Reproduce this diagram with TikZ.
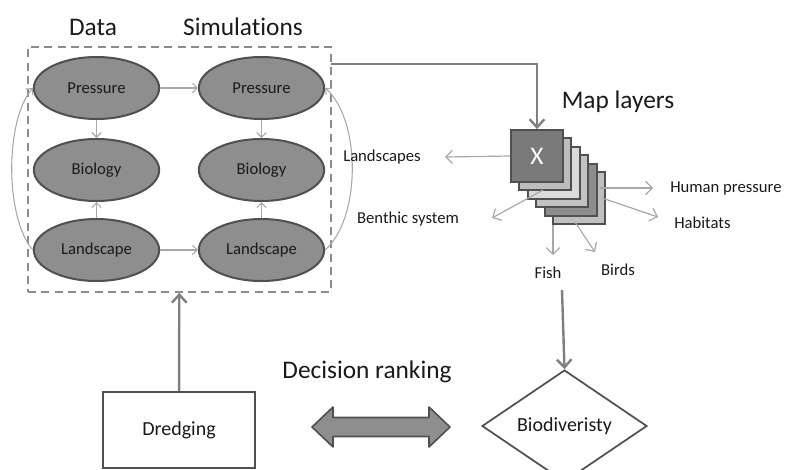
\documentclass[tikz,border=0pt]{standalone}
\usepackage{fontspec}
\setmainfont{Carlito}[Ligatures={NoCommon}]
\usetikzlibrary{arrows.meta,shapes.geometric}
\definecolor{ellfill}{HTML}{8E8E8E}
\definecolor{ellline}{HTML}{505050}
\definecolor{thinarr}{HTML}{A8A8A8}
\definecolor{thickarr}{HTML}{7F7F7F}
\definecolor{dashc}{HTML}{8C8C8C}
\definecolor{txt}{HTML}{1A1A1A}
\begin{document}
\begin{tikzpicture}[x=0.75pt,y=-0.75pt,
  txtsmall/.style={font=\fontsize{12.5}{15}\selectfont, text=txt, inner sep=0pt},
  txtbig/.style={font=\fontsize{19}{23}\selectfont, text=txt, inner sep=0pt},
  ell/.style={ellipse, draw=ellline, line width=1.5pt, fill=ellfill, minimum width=94pt, minimum height=46.5pt, inner sep=0pt, font=\fontsize{12.5}{15}\selectfont, text=txt},
  layer/.style={draw=ellline, line width=1.4pt, minimum width=39pt, minimum height=39pt, inner sep=0pt},
  thinar/.style={draw=thinarr, line width=0.8pt, -{Straight Barb[length=3.5pt,width=7pt]}},
  mapar/.style={draw=thinarr, line width=0.9pt, -{Straight Barb[length=5pt,width=10pt]}},
  thickar/.style={draw=thickarr, line width=1.8pt, -{Straight Barb[length=6pt,width=11pt]}}
]
\useasboundingbox (0,0) rectangle (789,469);

% frame
\node[draw=dashc, dashed, dash pattern=on 6pt off 4pt, line width=1.3pt, minimum width=227.25pt, minimum height=183.75pt, inner sep=0pt] (frame) at (179.5,169.5) {};

\node[txtbig] (data) at (93,27) {Data};
\node[txtbig] (sim) at (243,27) {Simulations};

% ellipses
\node[ell] (p1) at (96.5,88) {Pressure};
\node[ell] (b1) at (96.5,170) {Biology};
\node[ell] (l1) at (96.5,250) {Landscape};
\node[ell] (p2) at (261.5,88) {Pressure};
\node[ell] (b2) at (261.5,170) {Biology};
\node[ell] (l2) at (261.5,250) {Landscape};

\draw[thinar] (p1) -- (p2);
\draw[thinar] (l1) -- (l2);
\draw[thinar] (p1) -- (b1);
\draw[thinar] (l1) -- (b1);
\draw[thinar] (p2) -- (b2);
\draw[thinar] (l2) -- (b2);
\draw[thinar] (l1.west) .. controls +(-28,-32) and +(-28,32) .. (p1.west);
\draw[thinar] (l2.east) .. controls +(36,-32) and +(36,32) .. (p2.east);

% map layers
\node[layer, fill=white!75!black] (m6) at (579,198) {};
\node[layer, fill=white!55!black] (m5) at (570.6,189.6) {};
\node[layer, fill=white!76!black] (m4) at (562.2,181.2) {};
\node[layer, fill=white!86!black] (m3) at (553.8,172.8) {};
\node[layer, fill=white!74!black] (m2) at (545.4,164.4) {};
\node[layer, fill=white!48!black, font=\fontsize{19}{23}\selectfont, text=white] (x) at (537,156) {X};

\node[txtbig] (maplab) at (618,102) {Map layers};

\coordinate (fo) at (331,64);
\draw[thickar] (fo) -| (x.north);

\node[txtsmall] (land) at (382,157) {Landscapes};
\node[txtsmall] (benth) at (408,219) {Benthic system};
\node[txtsmall, anchor=west] (human) at (670,188) {Human pressure};
\node[txtsmall, anchor=west] (hab) at (674,223) {Habitats};
\node[txtsmall] (fish) at (548,273) {Fish};
\node[txtsmall] (birds) at (618,270) {Birds};

\coordinate (tland) at (445,157);
\coordinate (sbenth) at (543,190);
\coordinate (tbenth) at (492,218);
\coordinate (shum) at (600,188);
\coordinate (thum) at (653,188);
\coordinate (shab) at (602,198);
\coordinate (thab) at (658,217);
\coordinate (sfish) at (553,225);
\coordinate (tfish) at (553,255);
\coordinate (sbird) at (575,222);
\coordinate (tbird) at (595,252);

\draw[mapar] (x.west) -- (tland);
\draw[mapar] (sbenth) -- (tbenth);
\draw[mapar] (shum) -- (thum);
\draw[mapar] (shab) -- (thab);
\draw[mapar] (sfish) -- (tfish);
\draw[mapar] (sbird) -- (tbird);

% bottom
\node[draw=ellline, line width=1.3pt, minimum width=114pt, minimum height=57pt, inner sep=0pt, font=\fontsize{15}{18}\selectfont, text=txt] (dredge) at (179,430) {Dredging\hspace{8pt}};
\node[diamond, draw=ellline, line width=1.3pt, minimum width=123.75pt, minimum height=70.5pt, inner sep=0pt, font=\fontsize{15}{18}\selectfont, text=txt] (biod) at (564.5,426) {Biodiveristy\hspace{8pt}};

\draw[thickar] (dredge) -- (frame);
\coordinate (sfb) at (562,290);
\draw[thickar] (sfb) -- (biod.north);

\node[txtbig] (dec) at (367,372) {Decision ranking};
\draw[draw=ellline, fill=ellfill, line width=1.2pt, line join=round]
  (312,427) -- (333,407) -- (333,417.5) -- (429,417.5) -- (429,407) -- (450,427)
  -- (429,447) -- (429,436.5) -- (333,436.5) -- (333,447) -- cycle;
\end{tikzpicture}
\end{document}
